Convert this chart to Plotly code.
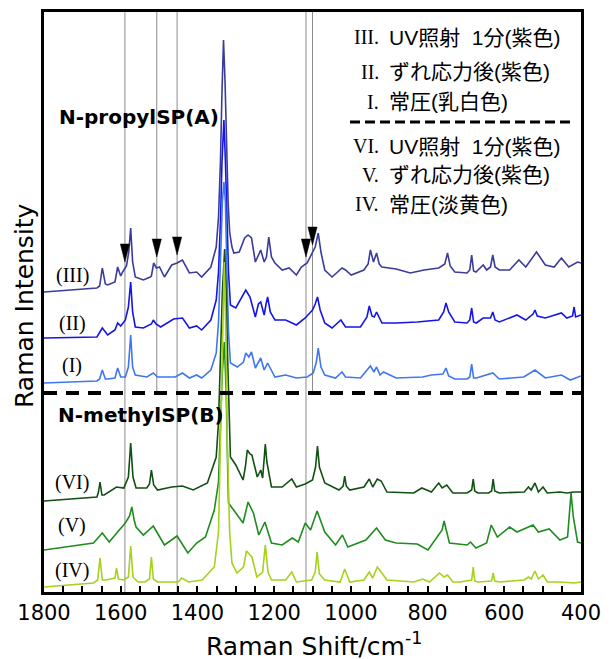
import plotly.graph_objects as go

# ---------------- data (Raman shift in cm-1, intensity in arbitrary offset units) ----------------
III_x = [1800, 1662, 1655, 1648, 1640, 1634, 1615, 1608, 1600, 1595, 1585, 1579, 1574, 1569, 1562, 1541, 1523, 1520, 1514, 1507, 1499, 1486, 1467, 1453, 1439, 1421, 1402, 1389, 1365, 1351, 1345, 1340, 1336, 1332, 1328, 1324, 1320, 1316, 1310, 1305, 1291, 1277, 1268, 1259, 1249, 1235, 1226, 1220, 1214, 1207, 1198, 1179, 1161, 1142, 1129, 1114, 1100, 1093, 1085, 1078, 1068, 1049, 1023, 1014, 999, 966, 955, 949, 941, 933, 926, 919, 882, 845, 809, 771, 755, 748, 741, 729, 697, 690, 685, 680, 674, 655, 646, 636, 630, 624, 613, 586, 562, 544, 516, 493, 470, 451, 432, 409, 400]
III_y = [300, 304, 306, 324, 308, 307, 310, 325, 316, 320, 326, 340, 364, 330, 315, 312, 315, 316, 329, 324, 325, 315, 327, 329, 332, 319, 320, 315, 325, 345, 375, 430, 500, 552, 510, 440, 390, 360, 345, 339, 340, 354, 357, 354, 330, 342, 330, 335, 355, 335, 329, 322, 324, 317, 325, 329, 339, 345, 359, 340, 322, 315, 324, 322, 317, 322, 328, 342, 330, 339, 328, 325, 323, 319, 322, 324, 328, 339, 326, 320, 319, 322, 337, 321, 320, 327, 322, 325, 337, 325, 322, 322, 332, 325, 340, 327, 325, 334, 325, 330, 329]

II_x = [1800, 1662, 1648, 1634, 1615, 1608, 1600, 1588, 1580, 1574, 1569, 1562, 1541, 1520, 1515, 1508, 1496, 1462, 1439, 1421, 1402, 1389, 1365, 1351, 1345, 1340, 1336, 1331, 1327, 1323, 1319, 1314, 1300, 1274, 1263, 1249, 1241, 1235, 1226, 1221, 1217, 1210, 1198, 1170, 1142, 1119, 1100, 1093, 1087, 1080, 1068, 1049, 1026, 1014, 975, 958, 952, 945, 939, 933, 919, 882, 827, 771, 758, 752, 745, 729, 697, 690, 685, 680, 673, 655, 636, 630, 624, 613, 567, 544, 525, 520, 514, 493, 451, 437, 422, 418, 414, 400]
II_y = [254, 255, 264, 257, 262, 269, 266, 272, 285, 310, 280, 265, 264, 268, 272, 268, 265, 273, 274, 264, 266, 262, 272, 292, 320, 370, 430, 472, 430, 370, 320, 287, 284, 302, 295, 275, 288, 290, 277, 288, 295, 280, 272, 272, 267, 274, 282, 288, 295, 282, 269, 264, 272, 265, 265, 275, 286, 276, 275, 280, 269, 269, 270, 272, 280, 289, 280, 270, 269, 272, 284, 270, 269, 274, 274, 280, 272, 270, 277, 272, 278, 282, 276, 274, 279, 274, 276, 285, 275, 277]

I_x = [1800, 1662, 1655, 1648, 1640, 1634, 1615, 1608, 1600, 1588, 1580, 1574, 1569, 1562, 1532, 1515, 1504, 1458, 1439, 1421, 1402, 1389, 1365, 1351, 1345, 1340, 1335, 1331, 1327, 1323, 1319, 1314, 1296, 1280, 1274, 1266, 1259, 1249, 1240, 1235, 1226, 1217, 1198, 1170, 1142, 1114, 1098, 1090, 1085, 1078, 1068, 1040, 1023, 1014, 975, 949, 940, 933, 924, 915, 882, 813, 790, 760, 752, 745, 729, 697, 690, 685, 680, 673, 630, 613, 549, 520, 493, 451, 428, 400]
I_y = [209, 211, 213, 222, 213, 213, 214, 224, 215, 215, 225, 257, 225, 217, 215, 219, 215, 215, 219, 214, 217, 214, 222, 239, 270, 330, 390, 410, 390, 320, 260, 229, 225, 230, 239, 235, 240, 224, 230, 234, 222, 229, 215, 217, 214, 215, 219, 230, 244, 225, 217, 214, 220, 215, 214, 226, 220, 225, 217, 220, 214, 215, 217, 218, 224, 216, 213, 213, 215, 228, 214, 214, 219, 213, 215, 222, 214, 217, 212, 216]

VI_x = [1800, 1662, 1658, 1654, 1649, 1643, 1611, 1592, 1580, 1574, 1568, 1560, 1532, 1525, 1520, 1514, 1504, 1467, 1439, 1411, 1374, 1351, 1345, 1340, 1335, 1329, 1325, 1321, 1317, 1314, 1300, 1281, 1275, 1270, 1263, 1258, 1244, 1235, 1230, 1226, 1223, 1219, 1207, 1179, 1154, 1142, 1119, 1100, 1092, 1087, 1082, 1068, 1031, 1020, 1016, 1012, 1003, 966, 952, 943, 931, 921, 906, 836, 815, 790, 771, 762, 750, 734, 697, 685, 681, 677, 669, 641, 633, 629, 625, 613, 548, 537, 530, 520, 511, 499, 488, 455, 437, 418, 400]
VI_y = [91, 95, 100, 110, 97, 97, 105, 104, 115, 149, 115, 104, 104, 108, 122, 107, 102, 105, 106, 102, 109, 135, 170, 230, 300, 343, 300, 230, 165, 135, 127, 112, 125, 142, 138, 137, 115, 122, 114, 130, 148, 130, 105, 105, 113, 105, 108, 112, 125, 146, 125, 109, 102, 106, 116, 106, 102, 105, 113, 105, 113, 111, 100, 99, 104, 100, 109, 104, 107, 99, 99, 102, 113, 101, 99, 99, 101, 113, 101, 99, 100, 105, 102, 109, 100, 105, 99, 100, 99, 100, 100]

V_x = [1800, 1671, 1648, 1630, 1606, 1588, 1577, 1571, 1565, 1560, 1541, 1515, 1486, 1453, 1425, 1402, 1379, 1356, 1345, 1340, 1335, 1330, 1325, 1321, 1319, 1300, 1281, 1268, 1254, 1240, 1224, 1207, 1179, 1153, 1137, 1119, 1105, 1088, 1068, 1040, 1022, 1008, 961, 933, 910, 882, 827, 799, 780, 762, 757, 750, 743, 697, 688, 674, 646, 634, 618, 586, 567, 525, 511, 483, 455, 435, 430, 426, 420, 409, 400]
V_y = [42, 49, 59, 50, 61, 69, 76, 85, 72, 65, 57, 66, 47, 56, 39, 49, 55, 82, 110, 160, 220, 250, 200, 120, 89, 79, 69, 90, 79, 57, 70, 49, 47, 54, 50, 69, 62, 81, 60, 47, 57, 45, 52, 64, 52, 49, 48, 42, 52, 62, 71, 60, 49, 47, 50, 44, 49, 67, 55, 65, 60, 67, 60, 63, 52, 55, 80, 99, 75, 50, 49]

IV_x = [1800, 1671, 1660, 1654, 1648, 1638, 1615, 1611, 1606, 1592, 1580, 1574, 1568, 1555, 1537, 1525, 1520, 1515, 1504, 1450, 1441, 1423, 1388, 1356, 1345, 1340, 1335, 1330, 1326, 1322, 1316, 1310, 1297, 1280, 1272, 1258, 1245, 1230, 1223, 1216, 1207, 1170, 1154, 1142, 1102, 1093, 1088, 1082, 1068, 1028, 1016, 1003, 966, 952, 943, 931, 921, 906, 836, 813, 795, 780, 769, 757, 748, 734, 715, 685, 681, 677, 669, 633, 629, 625, 613, 548, 537, 530, 520, 511, 499, 488, 455, 418, 400]
IV_y = [5, 9, 12, 34, 12, 12, 14, 24, 13, 12, 15, 46, 15, 10, 10, 13, 35, 13, 10, 10, 14, 10, 12, 25, 60, 150, 260, 330, 260, 150, 60, 29, 19, 25, 41, 35, 15, 20, 47, 20, 12, 12, 20, 10, 12, 20, 40, 18, 12, 10, 23, 10, 12, 20, 14, 25, 20, 12, 10, 13, 10, 15, 19, 15, 17, 10, 10, 12, 25, 11, 10, 11, 19, 11, 10, 12, 15, 13, 21, 13, 17, 10, 10, 9, 10]

spectra_names = ["(III)", "(II)", "(I)", "(VI)", "(V)", "(IV)"]
spectra_colors = ["#3b3b9c", "#1515e8", "#3f76f2", "#124f12", "#1f8c1f", "#a6d11c"]
label_y = [317, 269, 227, 110, 67, 22]
label_x = 1727

# marker lines / arrows (cm-1)
guide_cm = [1589, 1506, 1453, 1117, 1100]
guide_bottom = [0, 199, 0, 0, 199]
arrow_tip = [330, 335, 337, 335, 347]
arrow_h = 18
arrow_hw = 12

divider_y = 199

legend_roman = ["III.", "II.", "I.", "VI.", "V.", "IV."]
legend_text = ["UV照射\u00a0\u00a01分(紫色)", "ずれ応力後(紫色)", "常圧(乳白色)",
               "UV照射\u00a0\u00a01分(紫色)", "ずれ応力後(紫色)", "常圧(淡黄色)"]
legend_py = [37, 72, 102, 146, 175, 204]

xticks = [1800, 1600, 1400, 1200, 1000, 800, 600, 400]

# ---------------- figure ----------------
W, H = 611, 659
OFF = 8  # page body margin: screenshot px = figure px + 8
L, R, T, B = 36, 38, 4, 75
pw, ph = W - L - R, H - T - B

def px_to_paper_x(px):
    return (px - OFF - L) / pw

def py_to_paper_y(py):
    return (H - B - (py - OFF)) / ph

fig = go.Figure()

xs_all = [III_x, II_x, I_x, VI_x, V_x, IV_x]
ys_all = [III_y, II_y, I_y, VI_y, V_y, IV_y]
for name, xs, ys, col in zip(spectra_names, xs_all, ys_all, spectra_colors):
    fig.add_trace(go.Scatter(x=xs, y=ys, mode="lines", name=name,
                             line=dict(color=col, width=1.6),
                             hoverinfo="skip", showlegend=False))

# arrows as filled triangles
ax, ay = [], []
for c, t in zip(guide_cm, arrow_tip):
    ax += [c - arrow_hw, c + arrow_hw, c, c - arrow_hw, None]
    ay += [t + arrow_h, t + arrow_h, t, t + arrow_h, None]
fig.add_trace(go.Scatter(x=ax, y=ay, mode="lines", fill="toself", fillcolor="black",
                         line=dict(color="black", width=0.5), hoverinfo="skip", showlegend=False))

shapes = []
for c, b in zip(guide_cm, guide_bottom):
    shapes.append(dict(type="line", xref="x", yref="y", x0=c, x1=c, y0=b, y1=580,
                       line=dict(color="#8c8c8c", width=1), layer="below"))
shapes.append(dict(type="line", xref="paper", yref="y", x0=0, x1=1, y0=divider_y, y1=divider_y,
                   line=dict(color="black", width=4, dash="13px,9px")))
shapes.append(dict(type="line", xref="paper", yref="paper",
                   x0=px_to_paper_x(350), x1=px_to_paper_x(573),
                   y0=py_to_paper_y(122), y1=py_to_paper_y(122),
                   line=dict(color="black", width=3, dash="10px,5px")))

annotations = []
for name, yv in zip(spectra_names, label_y):
    annotations.append(dict(x=label_x, y=yv, xref="x", yref="y", text=name, showarrow=False,
                            font=dict(family="Liberation Serif", size=20, color="black"),
                            xanchor="center", yanchor="middle"))
for rn, tx, py in zip(legend_roman, legend_text, legend_py):
    annotations.append(dict(x=px_to_paper_x(381), y=py_to_paper_y(py), xref="paper", yref="paper",
                            text=rn, showarrow=False, xanchor="right", yanchor="middle",
                            font=dict(family="Liberation Serif", size=20, color="black")))
    annotations.append(dict(x=px_to_paper_x(387), y=py_to_paper_y(py), xref="paper", yref="paper",
                            text=tx, showarrow=False, xanchor="left", yanchor="middle",
                            font=dict(family="Liberation Sans, Noto Sans CJK JP", size=21, color="black")))
annotations.append(dict(x=px_to_paper_x(57), y=py_to_paper_y(117), xref="paper", yref="paper",
                        text="<b>N-propylSP(A)</b>", showarrow=False, xanchor="left", yanchor="middle",
                        font=dict(family="DejaVu Sans", size=20, color="black")))
annotations.append(dict(x=px_to_paper_x(56), y=py_to_paper_y(415), xref="paper", yref="paper",
                        text="<b>N-methylSP(B)</b>", showarrow=False, xanchor="left", yanchor="middle",
                        font=dict(family="DejaVu Sans", size=20, color="black")))
annotations.append(dict(x=px_to_paper_x(314), y=py_to_paper_y(644), xref="paper", yref="paper",
                        text="Raman Shift/cm<sup>-1</sup>", showarrow=False, xanchor="center", yanchor="middle",
                        font=dict(family="DejaVu Sans", size=25, color="black")))
annotations.append(dict(x=px_to_paper_x(24), y=py_to_paper_y(306), xref="paper", yref="paper",
                        text="Raman Intensity", showarrow=False, xanchor="center", yanchor="middle",
                        textangle=-90, font=dict(family="DejaVu Sans", size=25, color="black")))

fig.update_layout(
    width=W, height=H,
    margin=dict(l=L, r=R, t=T, b=B, autoexpand=False),
    paper_bgcolor="white", plot_bgcolor="white",
    font=dict(family="DejaVu Sans", color="black"),
    shapes=shapes, annotations=annotations,
    xaxis=dict(range=[1800, 400], tickvals=xticks, ticktext=[str(v) for v in xticks],
               ticks="inside", ticklen=6, tickwidth=2, tickcolor="black",
               minor=dict(dtick=50, tick0=400, ticks="inside", ticklen=6, tickwidth=2, tickcolor="black"),
               showline=True, linewidth=3, linecolor="black", mirror=True,
               showgrid=False, zeroline=False,
               tickfont=dict(family="DejaVu Sans", size=21, color="black")),
    yaxis=dict(range=[0, 580], showticklabels=False, ticks="",
               showline=True, linewidth=3, linecolor="black", mirror=True,
               showgrid=False, zeroline=False),
)

fig.write_html("out.html")
